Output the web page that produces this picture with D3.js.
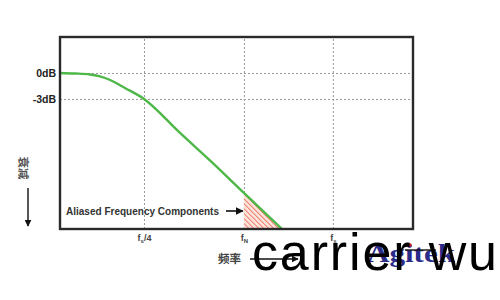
<!DOCTYPE html>
<html><head><meta charset="utf-8">
<script src="https://cdn.jsdelivr.net/npm/d3@7"></script>
<style>
html,body{margin:0;padding:0;background:#fff;}
svg{display:block;}
</style></head>
<body>
<svg id="c" width="500" height="300"></svg>
<script>
// ---- data ----
const curveX = [0, 0.42, 0.85, 1.13, 1.42, 1.84, 2.38, 3.40, 4.33, 5.21, 6.29];
const curveDb = [0, -0.06, -0.17, -0.40, -0.81, -1.73, -3.0, -6.92, -10.4, -13.84, -18.0];
const yTickValues = [0, -3];
const yTickLabels = ["0dB", "-3dB"];
const xTickValues = [2.38, 5.21, 7.73];
const xTickMain = ["f", "f", "f"];
const xTickSub = ["s", "N", "s"];
const xTickSuffix = ["/4", "", ""];
const nyquistX = 5.21;
const aliasLabel = "Aliased Frequency Components";
const xTitle = "频率";
const yTitle = "衰减";

// ---- layout ----
const L = 60, T = 37, R = 413, B = 229;
const svg = d3.select("#c");
const x = d3.scaleLinear().domain([0, 10]).range([L, R]);
const y = d3.scaleLinear().domain([-18, 4.15]).range([B, T]);

// hatch pattern
const defs = svg.append("defs");
const pat = defs.append("pattern").attr("id", "hatch").attr("patternUnits", "userSpaceOnUse")
  .attr("width", 3.5).attr("height", 3.5).attr("patternTransform", "rotate(-45)");
pat.append("rect").attr("width", 3.5).attr("height", 3.5).attr("fill", "#fbe3dc");
pat.append("line").attr("x1", 0).attr("y1", 0).attr("x2", 0).attr("y2", 3.5)
  .attr("stroke", "#ec6a52").attr("stroke-width", 1.6);
const clip = defs.append("clipPath").attr("id", "plotclip");
clip.append("rect").attr("x", L).attr("y", T).attr("width", R - L).attr("height", B - T);

// grid
const gGrid = svg.append("g");
gGrid.append("g").attr("transform", `translate(0,${B})`)
  .call(d3.axisBottom(x).tickValues(xTickValues).tickSize(-(B - T)).tickFormat(""))
  .call(g => g.select(".domain").remove())
  .call(g => g.selectAll("line").attr("stroke", "#9a9a9a").attr("stroke-dasharray", "2,2"));
gGrid.append("g").attr("transform", `translate(${L},0)`)
  .call(d3.axisLeft(y).tickValues(yTickValues).tickSize(-(R - L)).tickFormat(""))
  .call(g => g.select(".domain").remove())
  .call(g => g.selectAll("line").attr("stroke", "#9a9a9a").attr("stroke-dasharray", "2,2"));

// hatched aliased area (curve beyond Nyquist down to floor)
const pts = curveX.map((v, i) => [v, curveDb[i]]);
const areaPts = pts.filter(p => p[0] >= nyquistX);
const area = d3.area().x(p => x(p[0])).y0(y(-18)).y1(p => y(p[1]));
svg.append("path").datum(areaPts).attr("d", area).attr("fill", "url(#hatch)")
  .attr("clip-path", "url(#plotclip)");

// curve
const line = d3.line().x(p => x(p[0])).y(p => y(p[1])).curve(d3.curveMonotoneX);
svg.append("path").datum(pts).attr("d", line).attr("fill", "none")
  .attr("stroke", "#4db848").attr("stroke-width", 2.4).attr("clip-path", "url(#plotclip)");

// frame
svg.append("rect").attr("x", L).attr("y", T).attr("width", R - L).attr("height", B - T)
  .attr("fill", "none").attr("stroke", "#2a2a2a").attr("stroke-width", 2.4);

// y tick labels
svg.append("g").attr("transform", `translate(${L},0)`)
  .call(d3.axisLeft(y).tickValues(yTickValues).tickSize(0).tickPadding(4)
    .tickFormat((d, i) => yTickLabels[i]))
  .call(g => g.select(".domain").remove())
  .call(g => g.selectAll("text").attr("font-family", "Liberation Sans, Arial, sans-serif")
    .attr("font-weight", "bold").attr("font-size", 10.5).attr("fill", "#222"));

// x tick labels
svg.append("g").attr("transform", `translate(0,${B})`)
  .call(d3.axisBottom(x).tickValues(xTickValues).tickSize(0).tickPadding(6).tickFormat(""))
  .call(g => g.select(".domain").remove())
  .call(g => g.selectAll(".tick text").each(function (d, i) {
    const t = d3.select(this).attr("font-family", "Liberation Sans, Arial, sans-serif")
      .attr("font-weight", "bold").attr("font-size", 9).attr("fill", "#444");
    t.text(null);
    t.append("tspan").text(xTickMain[i]);
    t.append("tspan").attr("font-size", 6).attr("dy", 2).text(xTickSub[i]);
    if (xTickSuffix[i]) t.append("tspan").attr("dy", -2).text(xTickSuffix[i]);
  }));

// arrow marker
defs.append("marker").attr("id", "arr").attr("viewBox", "0 0 10 10").attr("refX", 9).attr("refY", 5)
  .attr("markerWidth", 5).attr("markerHeight", 5).attr("orient", "auto")
  .append("path").attr("d", "M0,0 L10,5 L0,10 z").attr("fill", "#111");

// alias annotation
svg.append("text").attr("x", 66).attr("y", 215).text(aliasLabel)
  .attr("font-family", "Liberation Sans Narrow, Arial Narrow, Liberation Sans, sans-serif")
  .attr("font-weight", "bold").attr("font-size", 11).attr("fill", "#333")
  .attr("textLength", 153).attr("lengthAdjust", "spacingAndGlyphs");
svg.append("line").attr("x1", 226).attr("y1", 211).attr("x2", x(nyquistX) - 1).attr("y2", 211)
  .attr("stroke", "#111").attr("stroke-width", 1.6).attr("marker-end", "url(#arr)");

// y title (rotated) with down arrow
svg.append("text").attr("transform", "translate(24,168) rotate(90)")
  .attr("text-anchor", "middle").attr("dominant-baseline", "central")
  .attr("font-family", "Noto Sans CJK SC, sans-serif").attr("font-weight", "bold")
  .attr("font-size", 11.5).attr("fill", "#555").text(yTitle);
svg.append("line").attr("x1", 28).attr("y1", 188).attr("x2", 28).attr("y2", 226)
  .attr("stroke", "#111").attr("stroke-width", 1.4).attr("marker-end", "url(#arr)");

// x title
svg.append("text").attr("x", 218).attr("y", 263)
  .attr("font-family", "Noto Sans CJK SC, sans-serif").attr("font-weight", "bold")
  .attr("font-size", 11.5).attr("fill", "#444").text(xTitle);
svg.append("line").attr("x1", 250).attr("y1", 259).attr("x2", 298).attr("y2", 259)
  .attr("stroke", "#111").attr("stroke-width", 1.4).attr("marker-end", "url(#arr)");

// watermarks
svg.append("text").attr("x", 367).attr("y", 262)
  .attr("font-family", "Liberation Serif, Times New Roman, serif").attr("font-weight", "bold")
  .attr("font-size", 25).attr("fill", "#2b2b8a").attr("textLength", 88)
  .attr("lengthAdjust", "spacingAndGlyphs").text("Agitek");
svg.append("circle").attr("cx", 410).attr("cy", 245).attr("r", 1.8).attr("fill", "#e02020");
svg.append("line").attr("x1", 405).attr("y1", 250).attr("x2", 436).attr("y2", 250)
  .attr("stroke", "#111").attr("stroke-width", 1.4);
svg.append("text").attr("x", 252).attr("y", 270)
  .attr("font-family", "Liberation Sans, Arial, sans-serif")
  .attr("font-size", 52).attr("fill", "#000").attr("textLength", 245)
  .attr("lengthAdjust", "spacing").text("carrier wu");
</script>
</body></html>
